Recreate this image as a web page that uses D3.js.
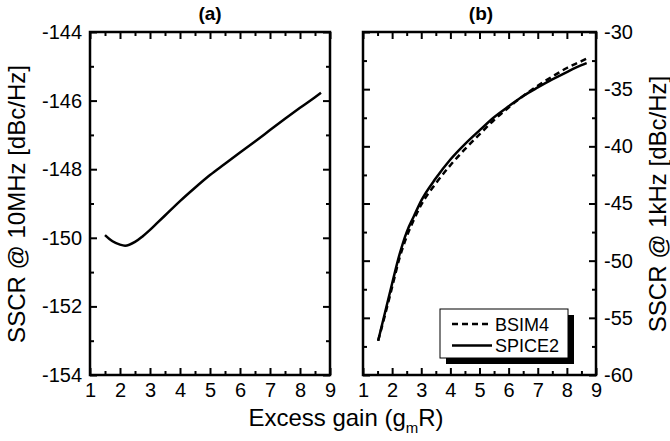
<!DOCTYPE html>
<html>
<head>
<meta charset="utf-8">
<script src="https://cdn.jsdelivr.net/npm/d3@7"></script>
<style>
body { margin: 0; background: #fff; }
text { font-family: "Liberation Sans", Arial, sans-serif; fill: #000; }
</style>
</head>
<body>
<script>
// panel (a): SSCR @ 10MHz vs excess gain
var gainA = [1.5, 1.75, 2.0, 2.17, 2.5, 2.75, 3.0, 3.25, 3.5, 4.0, 4.5, 5.0, 5.5, 6.0, 6.5, 7.0, 7.5, 8.0, 8.5, 8.7];
var sscrA = [-149.92, -150.1, -150.2, -150.23, -150.12, -149.96, -149.77, -149.56, -149.35, -148.93, -148.54, -148.17, -147.84, -147.51, -147.19, -146.86, -146.53, -146.21, -145.9, -145.77];

// panel (b): SSCR @ 1kHz, two models
var gainBsim = [1.52, 1.75, 2.0, 2.25, 2.5, 2.75, 3.0, 3.5, 4.0, 4.5, 5.0, 5.5, 6.0, 6.5, 7.0, 7.5, 8.0, 8.5, 8.66];
var sscrBsim = [-57.0, -54.8, -52.3, -49.8, -47.9, -46.4, -45.1, -43.25, -41.65, -40.25, -38.95, -37.7, -36.6, -35.6, -34.7, -33.9, -33.15, -32.55, -32.35];
var gainSpice = [1.52, 1.75, 2.0, 2.25, 2.5, 2.75, 3.0, 3.5, 4.0, 4.5, 5.0, 5.5, 6.0, 6.5, 7.0, 7.5, 8.0, 8.5, 8.68];
var sscrSpice = [-57.0, -54.6, -52.0, -49.5, -47.5, -46.1, -44.75, -42.8, -41.15, -39.8, -38.6, -37.45, -36.5, -35.6, -34.85, -34.15, -33.5, -32.9, -32.72];

var xTicks = [1, 2, 3, 4, 5, 6, 7, 8, 9];
var xMinor = [1.5, 2.5, 3.5, 4.5, 5.5, 6.5, 7.5, 8.5];
var yTicksA = [-154, -152, -150, -148, -146, -144];
var yMinorA = [-153, -151, -149, -147, -145];
var yTicksB = [-60, -55, -50, -45, -40, -35, -30];
var yMinorB = [-57.5, -52.5, -47.5, -42.5, -37.5, -32.5];
var seriesNames = ["BSIM4", "SPICE2"];

var width = 670, height = 441;
var plotTop = 32, plotBottom = 375;

var svg = d3.select("body").append("svg")
  .attr("width", width)
  .attr("height", height);

var xa = d3.scaleLinear().domain([1, 9]).range([90, 330]);
var ya = d3.scaleLinear().domain([-154, -144]).range([plotBottom, plotTop]);
var xb = d3.scaleLinear().domain([1, 9]).range([363, 596]);
var yb = d3.scaleLinear().domain([-60, -30]).range([plotBottom, plotTop]);

// plain hyphen for negatives, like the original
var plain = function(d) { return String(d); };

// frame with inward ticks on all four sides
function frame(x, y, yMajor, yMin, labelSide) {
  var x0 = x.range()[0], x1 = x.range()[1];

  function ticks(axis, tx, ty, values, size) {
    var g = svg.append("g")
      .attr("transform", "translate(" + tx + "," + ty + ")")
      .call(axis.tickValues(values).tickSize(-size).tickFormat(""));
    g.select(".domain").remove();
    g.selectAll("line").attr("stroke", "#000").attr("stroke-width", 2);
    return g;
  }

  ticks(d3.axisTop(x), 0, plotTop, xTicks, 7);
  ticks(d3.axisTop(x), 0, plotTop, xMinor, 4);
  ticks(d3.axisBottom(x), 0, plotBottom, xMinor, 4);
  ticks(d3.axisLeft(y), x0, 0, yMin, 4);
  ticks(d3.axisRight(y), x1, 0, yMin, 4);
  ticks(labelSide == "left" ? d3.axisRight(y) : d3.axisLeft(y), labelSide == "left" ? x1 : x0, 0, yMajor, 7);

  // labelled axes
  var gx = svg.append("g")
    .attr("transform", "translate(0," + plotBottom + ")")
    .call(d3.axisBottom(x).tickValues(xTicks).tickFormat(plain).tickSizeInner(-7).tickSizeOuter(0).tickPadding(8));
  gx.select(".domain").remove();
  gx.selectAll("line").attr("stroke", "#000").attr("stroke-width", 2);
  gx.selectAll("text").style("font-size", "20px").attr("font-family", null);

  var ay = labelSide == "left" ? d3.axisLeft(y) : d3.axisRight(y);
  var gy = svg.append("g")
    .attr("transform", "translate(" + (labelSide == "left" ? x0 : x1) + ",0)")
    .call(ay.tickValues(yMajor).tickFormat(plain).tickSizeInner(-7).tickSizeOuter(0).tickPadding(8));
  gy.select(".domain").remove();
  gy.selectAll("line").attr("stroke", "#000").attr("stroke-width", 2);
  gy.selectAll("text").style("font-size", "20px").attr("font-family", null);

  svg.append("rect")
    .attr("x", x0).attr("y", plotTop)
    .attr("width", x1 - x0).attr("height", plotBottom - plotTop)
    .attr("fill", "none").attr("stroke", "#000").attr("stroke-width", 2.5);
}

frame(xa, ya, yTicksA, yMinorA, "left");
frame(xb, yb, yTicksB, yMinorB, "right");

// curves
var lineA = d3.line().x(function(d) { return xa(d[0]); }).y(function(d) { return ya(d[1]); }).curve(d3.curveMonotoneX);
var lineB = d3.line().x(function(d) { return xb(d[0]); }).y(function(d) { return yb(d[1]); }).curve(d3.curveMonotoneX);

svg.append("path")
  .attr("d", lineA(d3.zip(gainA, sscrA)))
  .attr("fill", "none").attr("stroke", "#000").attr("stroke-width", 2.5);

svg.append("path")
  .attr("d", lineB(d3.zip(gainBsim, sscrBsim)))
  .attr("fill", "none").attr("stroke", "#000").attr("stroke-width", 2.5)
  .attr("stroke-dasharray", "6,4");

svg.append("path")
  .attr("d", lineB(d3.zip(gainSpice, sscrSpice)))
  .attr("fill", "none").attr("stroke", "#000").attr("stroke-width", 2.5);

// legend with drop shadow
var lg = svg.append("g").attr("transform", "translate(440,309)");
lg.append("rect").attr("x", 6).attr("y", 6).attr("width", 128).attr("height", 49).attr("fill", "#000");
lg.append("rect").attr("width", 128).attr("height", 49).attr("fill", "#fff").attr("stroke", "#000").attr("stroke-width", 1);
seriesNames.forEach(function(name, i) {
  var yy = 15 + i * 21.5;
  lg.append("line").attr("x1", 12).attr("x2", 52).attr("y1", yy).attr("y2", yy)
    .attr("stroke", "#000").attr("stroke-width", 2.5)
    .attr("stroke-dasharray", i == 0 ? "6,4" : null);
  lg.append("text").attr("x", 55).attr("y", yy + 6.5).style("font-size", "18px").text(name);
});

// panel titles
svg.append("text").attr("x", 210).attr("y", 20).attr("text-anchor", "middle")
  .style("font-size", "19px").style("font-weight", "bold").text("(a)");
svg.append("text").attr("x", 481).attr("y", 20).attr("text-anchor", "middle")
  .style("font-size", "19px").style("font-weight", "bold").text("(b)");

// axis titles
svg.append("text").attr("transform", "translate(25,204) rotate(-90)").attr("text-anchor", "middle")
  .style("font-size", "24px").text("SSCR @ 10MHz [dBc/Hz]");
svg.append("text").attr("transform", "translate(666,204) rotate(-90)").attr("text-anchor", "middle")
  .style("font-size", "24px").text("SSCR @ 1kHz [dBc/Hz]");

var xt = svg.append("text").attr("x", 346).attr("y", 426).attr("text-anchor", "middle")
  .style("font-size", "24px");
xt.append("tspan").text("Excess gain (g");
xt.append("tspan").attr("dy", 7).style("font-size", "15px").text("m");
xt.append("tspan").attr("dy", -7).text("R)");
</script>
</body>
</html>
